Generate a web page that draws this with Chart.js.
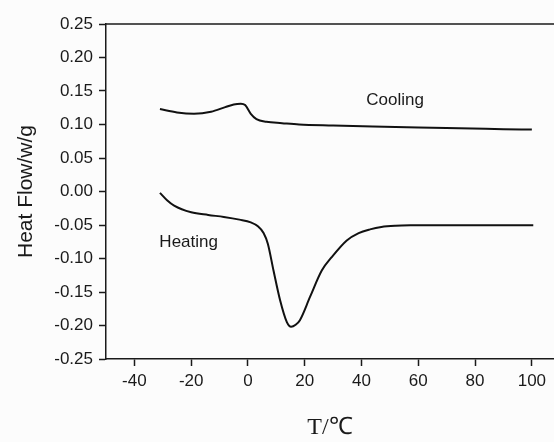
<!DOCTYPE html>
<html>
<head>
<meta charset="utf-8">
<script src="https://cdn.jsdelivr.net/npm/chart.js@4"></script>
<style>
  html, body { margin: 0; padding: 0; background: #fcfcfc; }
  #grafico { display: block; }
</style>
</head>
<body>
<canvas id="grafico" width="554" height="442"></canvas>
<script>
// cooling curve (T in °C, heat flow in w/g)
const coolT = [-31, -25, -19, -13, -8, -5, -2.5, -1, 1, 3, 6.5, 12, 18, 30, 44, 60, 79, 90, 100];
const coolQ = [0.123, 0.118, 0.116, 0.119, 0.126, 0.130, 0.131, 0.129, 0.116, 0.108, 0.104, 0.102, 0.100, 0.0985, 0.097, 0.0955, 0.094, 0.093, 0.0924];

// heating curve
const heatT = [-31, -28.5, -26, -20, -14, -8.5, -3, 1, 3.5, 5.5, 7, 9, 11.3, 13.7, 15.2, 16.8, 18.3, 21.9, 26, 29.5, 34.8, 39, 43, 47, 52, 58, 70, 100.5];
const heatQ = [-0.002, -0.013, -0.021, -0.031, -0.035, -0.038, -0.042, -0.046, -0.052, -0.062, -0.078, -0.118, -0.162, -0.195, -0.202, -0.199, -0.192, -0.157, -0.118, -0.098, -0.073, -0.062, -0.0565, -0.053, -0.0512, -0.0505, -0.0502, -0.0502];

const xTicks = [-40, -20, 0, 20, 40, 60, 80, 100];
const yTicks = [-0.25, -0.2, -0.15, -0.1, -0.05, 0, 0.05, 0.1, 0.15, 0.2, 0.25];

const curveLabels = [
  { text: "Cooling", x: 51.8, y: 0.136, align: "center" },
  { text: "Heating", x: -31.2, y: -0.076, align: "left" },
];

function pares(xs, ys) {
  return xs.map(function (v, i) {
    return { x: v, y: ys[i] };
  });
}

const sansFamily = "'Liberation Sans', Arial, sans-serif";
const tickFont = { family: sansFamily, size: 17 };

// draws top border and curve names
const extras = {
  id: "extras",
  afterDraw(chart) {
    const c = chart.ctx;
    const a = chart.chartArea;
    c.save();
    c.strokeStyle = "#1a1a1a";
    c.lineWidth = 1.5;
    c.beginPath();
    c.moveTo(a.left, a.top);
    c.lineTo(a.right, a.top);
    c.stroke();

    c.fillStyle = "#1a1a1a";
    c.font = "17px " + sansFamily;
    c.textBaseline = "middle";
    curveLabels.forEach(function (l) {
      c.textAlign = l.align;
      c.fillText(l.text, chart.scales.x.getPixelForValue(l.x), chart.scales.y.getPixelForValue(l.y));
    });
    c.restore();
  },
};

const chart = new Chart(document.getElementById("grafico"), {
  type: "line",
  data: {
    datasets: [
      {
        label: "Cooling",
        data: pares(coolT, coolQ),
        borderColor: "#111",
        borderWidth: 2,
        pointRadius: 0,
        cubicInterpolationMode: "monotone",
        fill: false,
      },
      {
        label: "Heating",
        data: pares(heatT, heatQ),
        borderColor: "#111",
        borderWidth: 2,
        pointRadius: 0,
        cubicInterpolationMode: "monotone",
        fill: false,
      },
    ],
  },
  options: {
    responsive: false,
    animation: false,
    devicePixelRatio: 1,
    layout: { padding: { top: 24, right: 0, left: 0, bottom: 0 } },
    plugins: {
      legend: { display: false },
      tooltip: { enabled: false },
    },
    scales: {
      x: {
        type: "linear",
        min: -50,
        max: 107.8,
        afterBuildTicks: function (scale) {
          scale.ticks = xTicks.map(function (v) { return { value: v }; });
        },
        afterFit: function (scale) {
          scale.height = 83;
        },
        grid: {
          drawOnChartArea: false,
          tickLength: 7,
          tickColor: "#1a1a1a",
          tickWidth: 1.5,
        },
        border: { color: "#1a1a1a", width: 1.5 },
        ticks: {
          color: "#1a1a1a",
          font: tickFont,
          padding: 5,
          maxRotation: 0,
        },
        title: {
          display: true,
          text: "T/℃",
          color: "#1a1a1a",
          font: { family: "'Liberation Serif', 'Times New Roman', serif", size: 24 },
          padding: { top: 0, bottom: 0 },
        },
      },
      y: {
        min: -0.25,
        max: 0.25,
        afterBuildTicks: function (scale) {
          scale.ticks = yTicks.map(function (v) { return { value: v }; });
        },
        afterFit: function (scale) {
          scale.width = 106;
        },
        grid: {
          drawOnChartArea: false,
          tickLength: 7,
          tickColor: "#1a1a1a",
          tickWidth: 1.5,
        },
        border: { color: "#1a1a1a", width: 1.5 },
        ticks: {
          color: "#1a1a1a",
          font: tickFont,
          padding: 6,
          callback: function (v) {
            return v.toFixed(2);
          },
        },
        title: {
          display: true,
          text: "Heat Flow/w/g",
          color: "#1a1a1a",
          font: { family: sansFamily, size: 21 },
          padding: { top: 14, bottom: 0 },
        },
      },
    },
  },
  plugins: [extras],
});
</script>
</body>
</html>
